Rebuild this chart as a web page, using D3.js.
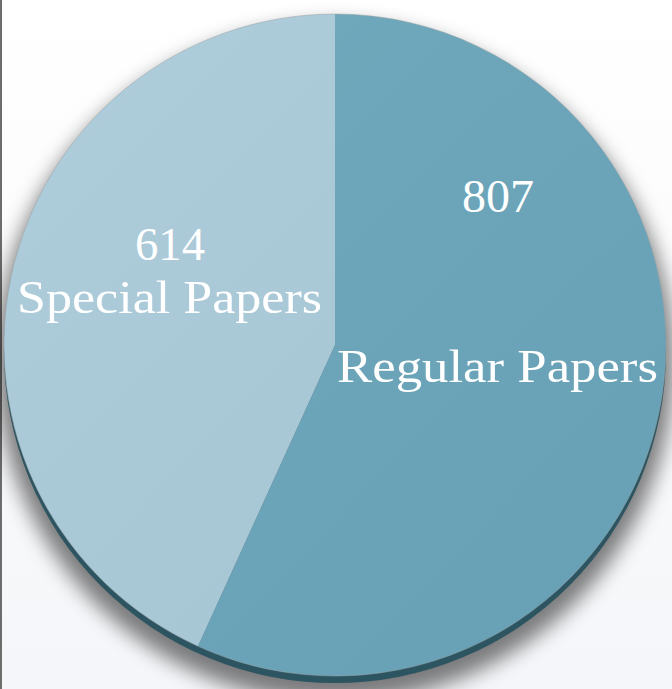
<!DOCTYPE html>
<html>
<head>
<meta charset="utf-8">
<script src="https://cdn.jsdelivr.net/npm/d3@7"></script>
<style>
  html, body { margin: 0; padding: 0; background: #ffffff; }
  svg { display: block; }
</style>
</head>
<body>
<svg id="chart" width="672" height="689"></svg>
<script>
// ---- data ----
const categories = ["Regular Papers", "Special Papers"];
const values = [807, 614];
const colors = ["#6ba6bb", "#abcbda"];

// ---- layout ----
const W = 672, H = 689;
const cx = 335, cy = 345, R = 331;

const svg = d3.select("#chart");
const defs = svg.append("defs");

const bg = defs.append("linearGradient").attr("id", "bg").attr("x1", 0).attr("y1", 0).attr("x2", 0).attr("y2", 1);
bg.append("stop").attr("offset", "0%").attr("stop-color", "#ffffff");
bg.append("stop").attr("offset", "100%").attr("stop-color", "#f5f6f9");

const shadow = defs.append("filter").attr("id", "shadow")
  .attr("x", "-20%").attr("y", "-20%").attr("width", "140%").attr("height", "140%");
shadow.append("feGaussianBlur").attr("stdDeviation", 10);

svg.append("rect").attr("width", W).attr("height", H).attr("fill", "url(#bg)");
// left border line
svg.append("rect").attr("x", 0).attr("y", 0).attr("width", 2).attr("height", H).attr("fill", "#6d6d6d");

const data = categories.map((c, i) => ({ name: c, value: values[i], color: colors[i] }));

const pie = d3.pie().sort(null).value(d => d.value);
const arcs = pie(data);
const arc = d3.arc().innerRadius(0).outerRadius(R);

const g = svg.append("g").attr("transform", `translate(${cx},${cy})`);

// drop shadow
g.append("circle").attr("cx", 0).attr("cy", 18).attr("r", R + 8)
  .attr("fill", "#000").attr("opacity", 0.5).attr("filter", "url(#shadow)");
// 3D rim (side of the pie)
g.append("circle").attr("cx", 0).attr("cy", 7).attr("r", R)
  .attr("fill", "#2d5561");

// slices
g.selectAll("path.slice").data(arcs).enter().append("path")
  .attr("class", "slice")
  .attr("d", arc)
  .attr("fill", d => d.data.color);

// subtle lighting overlay
const light = defs.append("linearGradient").attr("id", "light").attr("x1", 0).attr("y1", 0).attr("x2", 1).attr("y2", 1);
light.append("stop").attr("offset", "0%").attr("stop-color", "#ffffff").attr("stop-opacity", 0.05);
light.append("stop").attr("offset", "100%").attr("stop-color", "#000000").attr("stop-opacity", 0.03);
g.append("circle").attr("r", R).attr("fill", "url(#light)");
g.append("circle").attr("r", R).attr("fill", "none").attr("stroke", "#9aa4a8").attr("stroke-opacity", 0.5).attr("stroke-width", 1);

// labels
const font = "'Liberation Serif', 'Times New Roman', serif";
const labels = [
  { text: String(values[0]), x: 498, y: 212, len: 72 },
  { text: categories[0], x: 497.5, y: 382, len: 321 },
  { text: String(values[1]), x: 170, y: 260, len: 70 },
  { text: categories[1], x: 169.5, y: 313, len: 305 }
];
svg.selectAll("text.lbl").data(labels).enter().append("text")
  .attr("class", "lbl")
  .attr("x", d => d.x).attr("y", d => d.y)
  .attr("text-anchor", "middle")
  .attr("font-family", font)
  .attr("font-size", 47)
  .attr("fill", "#ffffff")
  .attr("textLength", d => d.len)
  .attr("lengthAdjust", "spacingAndGlyphs")
  .text(d => d.text);
</script>
</body>
</html>
